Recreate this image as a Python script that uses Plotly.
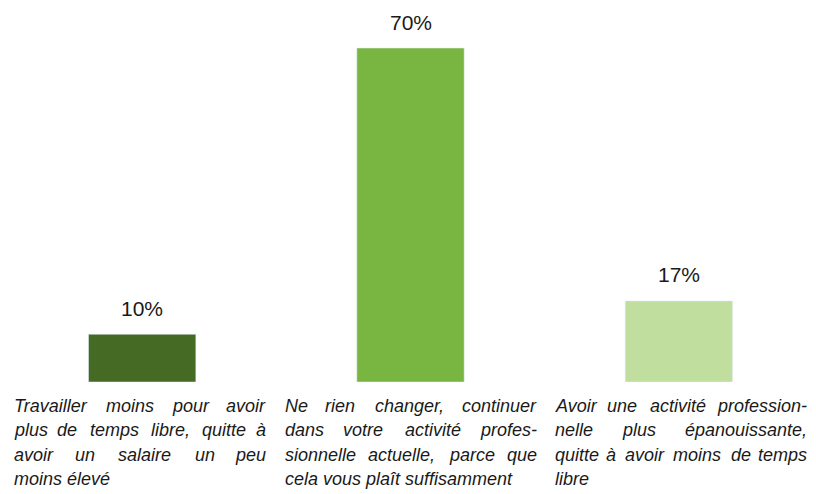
import plotly.graph_objects as go

# ---- data ----
categories = ["Travailler moins", "Ne rien changer", "Activité plus épanouissante"]
values = [10, 70, 17]
value_labels = ["10%", "70%", "17%"]
bar_colors = ["#456a24", "#79b541", "#c0df9f"]
label_lines = [
    ["Travailler moins pour avoir", "plus de temps libre, quitte à",
     "avoir un salaire un peu", "moins élevé"],
    ["Ne rien changer, continuer", "dans votre activité profes-",
     "sionnelle actuelle, parce que", "cela vous plaît suffisamment"],
    ["Avoir une activité profession-", "nelle plus épanouissante,",
     "quitte à avoir moins de temps", "libre"],
]

# ---- style / layout ----
TEXT_FONT = "Liberation Sans, Arial, sans-serif"
TEXT_SIZE = 18
COL_LEFT = [-130, -128, -126]   # px offset of column left edge from bar centre
COL_WIDTH = 256
LINE_SHIFT = [-23.5, -48, -72.5, -97]

# Arial / Helvetica advance widths (1/1000 em)
W = {' ': 278, ',': 278, '-': 333, '.': 278, '%': 889,
     'a': 556, 'b': 556, 'c': 500, 'd': 556, 'e': 556, 'f': 278, 'g': 556,
     'h': 556, 'i': 222, 'j': 222, 'k': 500, 'l': 222, 'm': 833, 'n': 556,
     'o': 556, 'p': 556, 'q': 556, 'r': 333, 's': 500, 't': 278, 'u': 556,
     'v': 500, 'w': 722, 'x': 500, 'y': 500, 'z': 500,
     'A': 667, 'N': 722, 'T': 611, 'à': 556, 'é': 556, 'î': 278}


def width(s):
    return sum(W.get(c, 556) for c in s) * TEXT_SIZE / 1000


fig = go.Figure(go.Bar(
    x=categories, y=values, marker_color=bar_colors, width=0.4,
    hoverinfo="skip",
))

ann = []
for cat, v, lab in zip(categories, values, value_labels):
    ann.append(dict(x=cat, y=v, xref="x", yref="y", text=lab, showarrow=False,
                    yanchor="middle", yshift=26,
                    font=dict(family="Liberation Sans, Arial, sans-serif",
                              size=21, color="#1a1a1a")))

for ci, (cat, lines) in enumerate(zip(categories, label_lines)):
    left = COL_LEFT[ci]
    right = left + COL_WIDTH
    for li, line in enumerate(lines):
        words = line.split(" ")
        common = dict(x=cat, y=0, xref="x", yref="y", showarrow=False,
                      yanchor="middle", yshift=LINE_SHIFT[li],
                      font=dict(family=TEXT_FONT, size=TEXT_SIZE, color="#1a1a1a"))
        last = li == len(lines) - 1
        if last or len(words) == 1:
            ann.append(dict(text="<i>" + line + "</i>", xanchor="left",
                            xshift=left, **common))
            continue
        # justified line: first word flush left, last flush right,
        # middle words centred on their estimated positions
        ws = [width(w) for w in words]
        gap = (COL_WIDTH - sum(ws)) / (len(words) - 1)
        pos = left
        n = len(words)
        for wi, (w, wd) in enumerate(zip(words, ws)):
            if wi == 0:
                a = dict(xanchor="left", xshift=left)
            elif wi == n - 1:
                a = dict(xanchor="right", xshift=right)
            else:
                a = dict(xanchor="center", xshift=pos + wd / 2)
            ann.append(dict(text="<i>" + w + "</i>", **a, **common))
            pos += wd + gap

# the page places the figure 8 px from the top-left corner; margins compensate
fig.update_layout(
    width=816, height=494,
    margin=dict(l=0, r=11, t=0, b=120, autoexpand=False),
    paper_bgcolor="white", plot_bgcolor="white",
    showlegend=False,
    xaxis=dict(visible=False, range=[-0.5, 2.5]),
    yaxis=dict(visible=False, range=[0, 78.4]),
    annotations=ann,
)

fig.write_html("out.html")
